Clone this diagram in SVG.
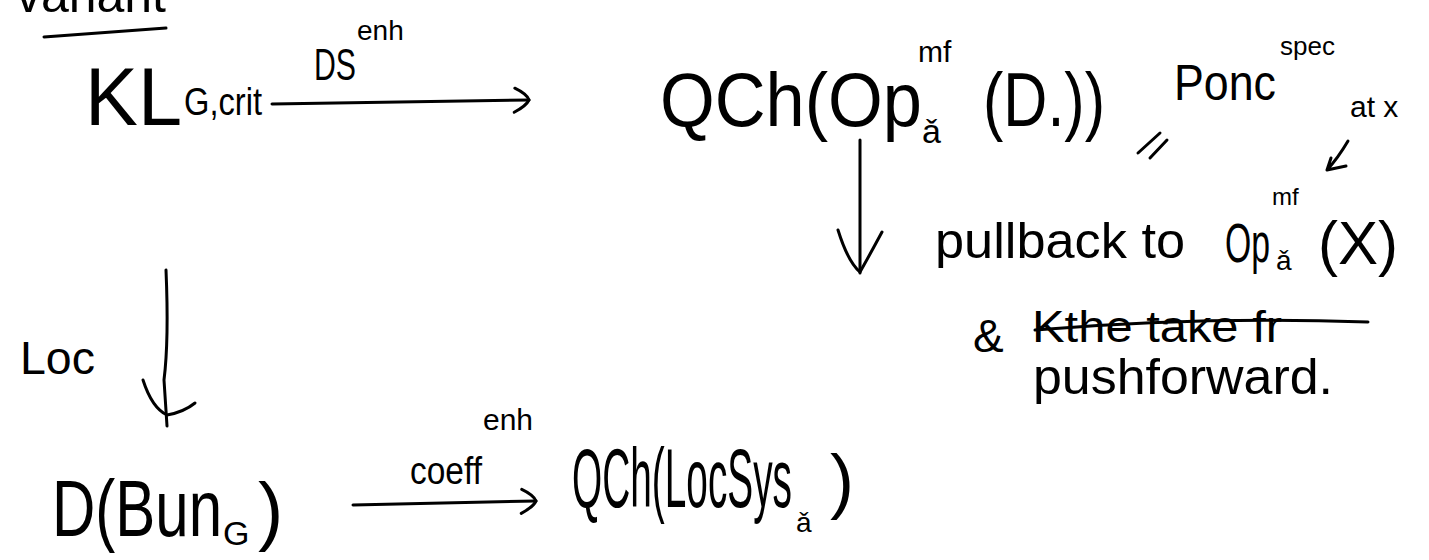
<svg xmlns="http://www.w3.org/2000/svg" width="1429" height="560" viewBox="0 0 1429 560">
<style>
text{font-family:"Liberation Sans","DejaVu Sans",sans-serif;fill:#000}
.ln{stroke:#000;stroke-width:3;fill:none;stroke-linecap:round;stroke-linejoin:round}
</style>
<defs>
<marker id="hd" markerUnits="userSpaceOnUse" viewBox="-18 -15 21 30" refX="0" refY="0" markerWidth="21" markerHeight="30" orient="auto">
<path d="M-14,-12 Q-2,-6 0,0 Q-3,6 -15,12" stroke="#000" stroke-width="3" fill="none" stroke-linecap="round"/>
</marker>
</defs>
<rect width="1429" height="560" fill="#fff"/>
<g id="title">
<text x="166" y="12" font-size="50" text-anchor="end">variant</text>
<path class="ln" d="M44,37 L166,28"/>
</g>
<g id="kl">
<text x="85" y="125" font-size="82" textLength="97" lengthAdjust="spacingAndGlyphs">KL</text>
<text x="184" y="115" font-size="38" textLength="78" lengthAdjust="spacingAndGlyphs">G,crit</text>
</g>
<g id="qch-op">
<text x="660" y="126" font-size="76" textLength="262" lengthAdjust="spacingAndGlyphs">QCh(Op</text>
<text x="918" y="62" font-size="30">mf</text>
<text x="922" y="143" font-size="34">ǎ</text>
<text x="983" y="126" font-size="76" textLength="122" lengthAdjust="spacingAndGlyphs">(D.))</text>
</g>
<g id="ponc">
<text x="1174" y="100" font-size="50" textLength="102" lengthAdjust="spacingAndGlyphs">Ponc</text>
<text x="1280" y="55" font-size="26">spec</text>
<path class="ln" d="M1138,153 L1160,133 M1150,158 L1167,140"/>
<text x="1350" y="117" font-size="30">at x</text>
</g>
<g id="note">
<text x="935" y="258" font-size="50" textLength="250" lengthAdjust="spacingAndGlyphs">pullback to</text>
<text x="1225" y="262" font-size="56" textLength="45" lengthAdjust="spacingAndGlyphs">Op</text>
<text x="1272" y="205" font-size="24">mf</text>
<text x="1276" y="270" font-size="28">ǎ</text>
<text x="1318" y="264" font-size="62" textLength="80" lengthAdjust="spacingAndGlyphs">(X)</text>
<text x="973" y="352" font-size="46">&amp;</text>
<text x="1032" y="342" font-size="44" textLength="250" lengthAdjust="spacingAndGlyphs">Kthe take fr</text>
<path class="ln" d="M1035,330 Q1200,316 1368,322"/>
<text x="1033" y="394" font-size="50" textLength="300" lengthAdjust="spacingAndGlyphs">pushforward.</text>
</g>
<g id="dbun">
<text x="52" y="536" font-size="80" textLength="170" lengthAdjust="spacingAndGlyphs">D(Bun</text>
<text x="223" y="545" font-size="34">G</text>
<text x="258" y="536" font-size="76">)</text>
</g>
<g id="qch-locsys">
<text x="572" y="507" font-size="84" textLength="220" lengthAdjust="spacingAndGlyphs">QCh(LocSys</text>
<text x="796" y="532" font-size="28">ǎ</text>
<text x="830" y="505" font-size="72">)</text>
</g>
<g id="connectors">
<path class="ln" d="M272,104 L529,100" marker-end="url(#hd)"/>
<text x="314" y="80" font-size="44" textLength="42" lengthAdjust="spacingAndGlyphs">DS</text>
<text x="357" y="40" font-size="28">enh</text>
<path class="ln" d="M860,140 L860,273"/>
<path class="ln" d="M838,230 Q848,262 860,272 Q868,258 882,232"/>
<path class="ln" d="M166,270 Q169,340 164,380 Q166,410 167,426"/>
<path class="ln" d="M143,380 Q152,408 167,415 Q184,412 195,403"/>
<text x="20" y="374" font-size="46" textLength="75" lengthAdjust="spacingAndGlyphs">Loc</text>
<path class="ln" d="M353,505 L536,501" marker-end="url(#hd)"/>
<text x="410" y="484" font-size="38" textLength="72" lengthAdjust="spacingAndGlyphs">coeff</text>
<text x="483" y="430" font-size="30">enh</text>
<path class="ln" d="M1348,141 Q1338,158 1327,170 M1327,170 L1346,166 M1327,170 L1331,158"/>
</g>
</svg>
